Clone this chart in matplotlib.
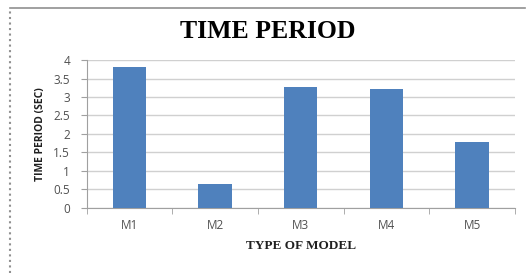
import matplotlib.pyplot as plt
from matplotlib.lines import Line2D
import numpy as np

models = ['M1', 'M2', 'M3', 'M4', 'M5']
time_period = [3.82, 0.65, 3.26, 3.22, 1.77]
y_ticks = [0, 0.5, 1, 1.5, 2, 2.5, 3, 3.5, 4]
y_tick_labels = ['0', '0.5', '1', '1.5', '2', '2.5', '3', '3.5', '4']

fig = plt.figure(figsize=(5.27, 2.73), dpi=100)
ax = fig.add_axes([0.1645, 0.239, 0.8125, 0.541])

x = np.arange(len(models))
ax.bar(x, time_period, width=0.39, color='#4f81bd', zorder=3)

ax.set_xlim(-0.5, len(models) - 0.5)
ax.set_ylim(0, 4)
ax.set_yticks(y_ticks)
ax.set_yticklabels(y_tick_labels, fontsize=8.5, color='#505050', family='Open Sans')
ax.set_xticks(x)
ax.set_xticklabels(models, fontsize=8.5, color='#505050', family='Open Sans')
# category boundary ticks on the x axis
ax.set_xticks(np.arange(len(models) + 1) - 0.5, minor=True)
ax.tick_params(axis='x', which='major', length=0, pad=8)
ax.tick_params(axis='x', which='minor', length=4, color='#a0a0a0')
ax.tick_params(axis='y', length=4, color='#a0a0a0', pad=8)

ax.grid(axis='y', color='#d0d0d0', linewidth=1, zorder=0)
for s in ['top', 'right']:
    ax.spines[s].set_visible(False)
for s in ['left', 'bottom']:
    ax.spines[s].set_color('#a0a0a0')

ax.set_ylabel('TIME PERIOD (SEC)', fontsize=7.5, fontweight='bold',
              family='Open Sans', color='#202020', labelpad=5)
ax.set_xlabel('TYPE OF MODEL', fontsize=9.5, fontweight='bold',
              family='Liberation Serif', color='#202020', labelpad=6)
fig.text(0.508, 0.885, 'TIME PERIOD', fontsize=18.5, fontweight='bold',
         family='Liberation Serif', ha='center', va='center')

# outer frame: solid top line, dotted left line
fig.add_artist(Line2D([10 / 527, 525 / 527], [1 - 8 / 273, 1 - 8 / 273],
                      color='#909090', linewidth=1.2))
fig.add_artist(Line2D([10 / 527, 10 / 527], [0, 1 - 8 / 273],
                      color='#909090', linewidth=1.5, linestyle=':'))

fig.savefig('out.png', dpi=100)
